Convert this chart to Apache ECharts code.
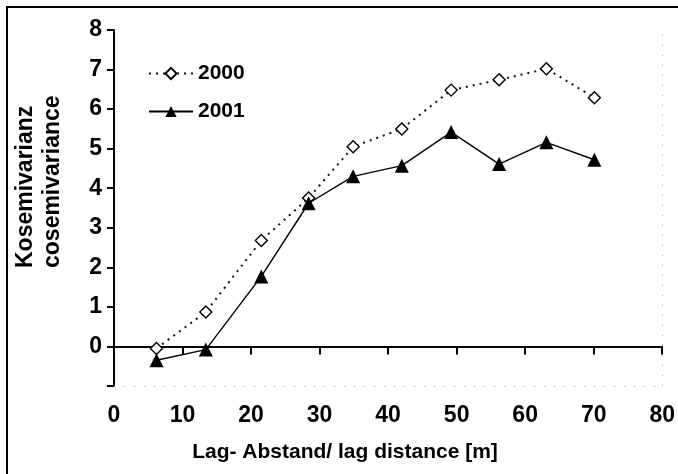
<!DOCTYPE html>
<html>
<head>
<meta charset="utf-8">
<script src="https://cdn.jsdelivr.net/npm/echarts@6/dist/echarts.min.js"></script>
<style>
html,body{margin:0;padding:0;background:#fff;}
#c{width:678px;height:474px;}
</style>
</head>
<body>
<div id="c"></div>
<script>
const lags = [6.2, 13.4, 21.5, 28.4, 34.9, 42.0, 49.2, 56.2, 63.1, 70.1];
const s2000 = [-0.05, 0.87, 2.68, 3.75, 5.05, 5.50, 6.48, 6.74, 7.02, 6.29];
const s2001 = [-0.35, -0.08, 1.77, 3.62, 4.30, 4.57, 5.42, 4.61, 5.16, 4.72];
const seriesNames = ['2000', '2001'];
const xTicks = [0, 10, 20, 30, 40, 50, 60, 70, 80];
const yTicks = [-1, 0, 1, 2, 3, 4, 5, 6, 7, 8];
const yTitle = ['Kosemivarianz', 'cosemivariance'];
const xTitle = 'Lag- Abstand/ lag distance [m]';

const FONT = 'Liberation Sans, Arial, sans-serif';
const chart = echarts.init(document.getElementById('c'), null, {renderer: 'canvas'});

const pair = (xs, ys) => xs.map((x, i) => [x, ys[i]]);

chart.setOption({
  animation: false,
  backgroundColor: '#fff',
  grid: {left: 114, right: 15, top: 30, bottom: 88, containLabel: false},
  legend: {
    orient: 'vertical', left: 143, top: 58,
    itemWidth: 44, itemHeight: 14, itemGap: 17,
    textStyle: {fontFamily: FONT, fontWeight: 'bold', fontSize: 21, color: '#000'},
    data: seriesNames
  },
  xAxis: [
    {
      type: 'value', min: xTicks[0], max: xTicks[xTicks.length - 1], interval: 10,
      position: 'top',
      axisLine: {show: true, onZero: true, lineStyle: {color: '#000', width: 2}},
      axisTick: {show: true, inside: true, length: 8, lineStyle: {color: '#000', width: 2}},
      axisLabel: {show: false},
      splitLine: {show: false}
    },
    {
      type: 'value', min: xTicks[0], max: xTicks[xTicks.length - 1], interval: 10,
      position: 'bottom',
      axisLine: {show: true, onZero: false, lineStyle: {color: '#bbb', width: 1, type: [1, 9]}},
      axisTick: {show: false},
      axisLabel: {show: true, margin: 18, fontFamily: FONT, fontWeight: 'bold', fontSize: 23, color: '#000'},
      splitLine: {show: false}
    }
  ],
  yAxis: [
    {
      type: 'value', min: yTicks[0], max: yTicks[yTicks.length - 1], interval: 1,
      position: 'left',
      axisLine: {show: true, onZero: false, lineStyle: {color: '#000', width: 2}},
      axisTick: {show: true, length: 7, lineStyle: {color: '#000', width: 2}},
      axisLabel: {
        margin: 12, fontFamily: FONT, fontWeight: 'bold', fontSize: 23, color: '#000',
        formatter: v => (v < 0 ? '' : String(v))
      },
      splitLine: {show: false}
    },
    {
      type: 'value', min: yTicks[0], max: yTicks[yTicks.length - 1], interval: 1,
      position: 'right',
      axisLine: {show: true, onZero: false, lineStyle: {color: '#bbb', width: 1, type: [1, 9]}},
      axisTick: {show: false},
      axisLabel: {show: false},
      splitLine: {show: false}
    }
  ],
  graphic: [
    {type: 'rect', silent: true, shape: {x: 7, y: 7, width: 720, height: 520},
     style: {fill: 'none', stroke: '#000', lineWidth: 2}},
    {type: 'text', x: 26, y: 268, rotation: Math.PI / 2,
     style: {text: yTitle[0], fontFamily: FONT, fontWeight: 'bold', fontSize: 23, fill: '#000',
             textAlign: 'left', textVerticalAlign: 'middle'}},
    {type: 'text', x: 53, y: 268, rotation: Math.PI / 2,
     style: {text: yTitle[1], fontFamily: FONT, fontWeight: 'bold', fontSize: 23, fill: '#000',
             textAlign: 'left', textVerticalAlign: 'middle'}},
    {type: 'text', x: 345, y: 452,
     style: {text: xTitle, fontFamily: FONT, fontWeight: 'bold', fontSize: 21, fill: '#000',
             textAlign: 'center', textVerticalAlign: 'middle'}}
  ],
  series: [
    {
      name: seriesNames[0], type: 'line', xAxisIndex: 0, yAxisIndex: 0,
      data: pair(lags, s2000),
      symbol: 'diamond', symbolSize: 12,
      lineStyle: {color: '#111', width: 2, type: [2, 5]},
      itemStyle: {color: '#fff', borderColor: '#000', borderWidth: 1.4},
      z: 3
    },
    {
      name: seriesNames[1], type: 'line', xAxisIndex: 0, yAxisIndex: 0,
      data: pair(lags, s2001),
      symbol: 'triangle', symbolSize: 14,
      lineStyle: {color: '#000', width: 1.4, type: 'solid'},
      itemStyle: {color: '#000', borderColor: '#000', borderWidth: 0},
      z: 4
    }
  ]
});
</script>
</body>
</html>
